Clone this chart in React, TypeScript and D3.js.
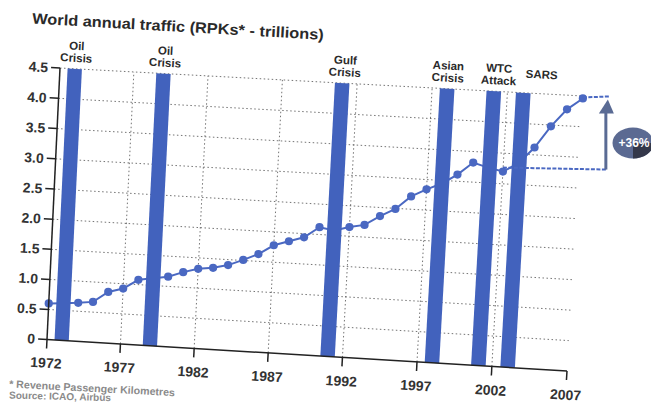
import React from 'react';
import * as d3 from 'd3';

const years = [1972,1973,1974,1975,1976,1977,1978,1979,1980,1981,1982,1983,1984,1985,1986,1987,1988,1989,1990,1991,1992,1993,1994,1995,1996,1997,1998,1999,2000,2001,2002,2003,2004,2005,2006,2007];
const rpkTrillions = [0.60,0.62,0.64,0.67,0.85,0.92,1.08,1.12,1.16,1.25,1.32,1.35,1.41,1.51,1.62,1.78,1.86,1.94,2.12,2.08,2.15,2.20,2.36,2.49,2.71,2.84,2.95,3.11,3.32,3.25,3.20,3.35,3.62,3.98,4.27,4.46];
const xTickYears = [1972,1977,1982,1987,1992,1997,2002,2007];
const xGridYears = [1977,1982,1987,1992,1997,2002];
const yTicks = [0,0.5,1.0,1.5,2.0,2.5,3.0,3.5,4.0,4.5];
const yTickLabels = ['0','0.5','1.0','1.5','2.0','2.5','3.0','3.5','4.0','4.5'];
const crisisCenters = [1973, 1979, 1991, 1998, 2001.1, 2003.05];
const crisisLabels = [['Oil','Crisis'],['Oil','Crisis'],['Gulf','Crisis'],['Asian','Crisis'],['WTC','Attack'],['SARS']];
const growthFrom = 2002;
const growthTo = 2007;
const growthLabel = '+36%';
const title = 'World annual traffic (RPKs* - trillions)';
const footnote = '* Revenue Passenger Kilometres';
const source = 'Source: ICAO, Airbus';

const FONT = '"Liberation Sans", Arial, Helvetica, sans-serif';
const BLUE = '#4262bd';
const LINE_BLUE = '#4a68c2';

function solveHomography(src: number[][], dst: number[][]) {
  const A: number[][] = [];
  for (let i = 0; i < 4; i++) {
    const [x, y] = src[i];
    const [X, Y] = dst[i];
    A.push([x, y, 1, 0, 0, 0, -x * X, -y * X, X]);
    A.push([0, 0, 0, x, y, 1, -x * Y, -y * Y, Y]);
  }
  const n = 8;
  for (let c = 0; c < n; c++) {
    let p = c;
    for (let r = c + 1; r < n; r++) if (Math.abs(A[r][c]) > Math.abs(A[p][c])) p = r;
    [A[c], A[p]] = [A[p], A[c]];
    for (let r = 0; r < n; r++) {
      if (r === c) continue;
      const f = A[r][c] / A[c][c];
      for (let k = c; k <= n; k++) A[r][k] -= f * A[c][k];
    }
  }
  return A.map((row, i) => row[n] / row[i]);
}

export default function App() {
  const x = d3.scaleLinear().domain([1972, 2007]).range([0, 520]);
  const y = d3.scaleLinear().domain([0, 4.5]).range([0, -272]);
  const h = solveHomography(
    [[0, 0], [520, 0], [0, -272], [520, -272]],
    [[47, 339.5], [567, 371], [60, 68], [583, 96]]
  );
  const P = (lx: number, ly: number): [number, number] => {
    const w = h[6] * lx + h[7] * ly + 1;
    return [(h[0] * lx + h[1] * ly + h[2]) / w, (h[3] * lx + h[4] * ly + h[5]) / w];
  };
  const ang = (lx: number, ly: number) => {
    const a = P(lx, ly), b = P(lx + 10, ly);
    return (Math.atan2(b[1] - a[1], b[0] - a[0]) * 180) / Math.PI;
  };
  const tr = (lx: number, ly: number) => {
    const [px, py] = P(lx, ly);
    return `translate(${px.toFixed(2)},${py.toFixed(2)}) rotate(${ang(lx, ly).toFixed(2)})`;
  };
  const seg = (a: [number, number], b: [number, number]) => ({ x1: a[0], y1: a[1], x2: b[0], y2: b[1] });

  const pts = years.map((yr, i) => P(x(yr), y(rpkTrillions[i])));
  const linePath = d3.line()(pts) || '';
  const top = y(4.5);
  const barW = 0.97;
  const labelNudge = [1, 1, 2, 0, 4, 17];

  const pFrom = pts[years.indexOf(growthFrom)];
  const pTo = pts[years.indexOf(growthTo)];
  const shaftX = pTo[0] + 23;

  return (
    <svg width={651} height={403} style={{ position: 'absolute', left: 0, top: 0, background: '#fff' }} fontFamily={FONT}>
      <rect x={0} y={0} width={651} height={403} fill="#fff" />
      {/* horizontal grid */}
      {yTicks.filter((v) => v > 0).map((v) => (
        <line key={'hg' + v} {...seg(P(x(1972), y(v)), P(x(2007), y(v)))} stroke="#3a3a3a" strokeWidth={1} strokeDasharray="1.5 2.5" opacity={0.7} />
      ))}
      {/* vertical grid */}
      {xGridYears.map((yr) => (
        <line key={'vg' + yr} {...seg(P(x(yr), y(0)), P(x(yr), top))} stroke="#3a3a3a" strokeWidth={1} strokeDasharray="1.5 2.5" opacity={0.7} />
      ))}
      {/* data line */}
      <path d={linePath} fill="none" stroke={LINE_BLUE} strokeWidth={2} />
      {pts.map((p, i) => (
        <circle key={'pt' + i} cx={p[0]} cy={p[1]} r={4.1} fill={LINE_BLUE} />
      ))}
      {/* crisis bars */}
      {crisisCenters.map((c, i) => {
        const a = P(x(c - barW / 2), y(0));
        const b = P(x(c + barW / 2), y(0));
        const cc = P(x(c + barW / 2), top);
        const d = P(x(c - barW / 2), top);
        return <polygon key={'bar' + i} points={[a, b, cc, d].map((p) => p.join(',')).join(' ')} fill={BLUE} />;
      })}
      {/* axes */}
      <line {...seg(P(0, 0), P(0, top))} stroke="#222" strokeWidth={1.5} />
      <line {...seg(P(0, 0), P(520, 0))} stroke="#222" strokeWidth={1.5} />
      {yTicks.map((v, i) => (
        <g key={'yt' + v}>
          <line {...seg(P(-9, y(v)), P(0, y(v)))} stroke="#222" strokeWidth={1.5} />
          <text transform={tr(-12, y(v))} dy="0.36em" textAnchor="end" fontSize={14} fontWeight="bold" fill="#333">{yTickLabels[i]}</text>
        </g>
      ))}
      {xTickYears.map((yr) => (
        <g key={'xt' + yr}>
          <line {...seg(P(x(yr), 0), P(x(yr), 9))} stroke="#222" strokeWidth={1.5} />
          <text transform={tr(x(yr), 28.5)} textAnchor="middle" fontSize={14} fontWeight="bold" fill="#333">{yr}</text>
        </g>
      ))}
      {/* crisis labels */}
      {crisisLabels.map((lines, i) => {
        const cx = x(crisisCenters[i]) + labelNudge[i];
        const offs = lines.length === 2 ? [-23, -11] : [-19];
        return lines.map((t, j) => (
          <text key={'cl' + i + j} transform={tr(cx, top + offs[j])} dy="0.36em" textAnchor="middle" fontSize={11.5} fontWeight="bold" fill="#2a2a2a">{t}</text>
        ));
      })}
      {/* growth bracket */}
      <line x1={pFrom[0]} y1={pFrom[1] - 4} x2={shaftX + 1} y2={pFrom[1] - 2} stroke={LINE_BLUE} strokeWidth={2} strokeDasharray="4 1.5" />
      <line x1={pTo[0]} y1={pTo[1] - 1} x2={shaftX + 3} y2={pTo[1] - 2} stroke={LINE_BLUE} strokeWidth={2} strokeDasharray="4 1.5" />
      <line x1={shaftX} y1={pFrom[1] - 2} x2={shaftX} y2={pTo[1] + 14} stroke="#5a6b94" strokeWidth={3} />
      <polygon points={`${shaftX - 7},${pTo[1] + 15} ${shaftX + 8},${pTo[1] + 15} ${shaftX + 2},${pTo[1] + 1}`} fill="#5a6b94" />
      <g transform="translate(633,143)">
        <ellipse cx={0} cy={0} rx={20.5} ry={15.5} fill="#5b6a92" />
        <path d="M0,0 L20.5,0 A20.5,15.5 0 0 1 0,15.5 Z" fill="#34384a" />
        <text x={1} y={0} dy="0.36em" textAnchor="middle" fontSize={12} fontWeight="bold" fill="#fff">{growthLabel}</text>
      </g>
      {/* title & notes */}
      <text transform="translate(32,23.5) rotate(3.2)" fontSize={15} fontWeight="bold" fill="#2a2a2a" textLength={292} lengthAdjust="spacingAndGlyphs">{title}</text>
      <text transform="translate(9,387.5) rotate(3)" fontSize={10.5} fontWeight="bold" fill="#8a8a8a" textLength={166} lengthAdjust="spacingAndGlyphs">{footnote}</text>
      <text transform="translate(9,398.5) rotate(1.5)" fontSize={10} fontWeight="bold" fill="#8a8a8a">{source}</text>
    </svg>
  );
}
